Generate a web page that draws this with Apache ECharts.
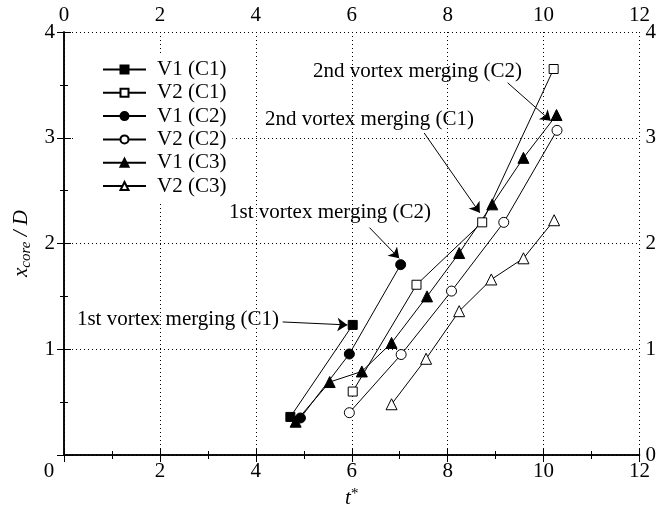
<!DOCTYPE html>
<html>
<head>
<meta charset="utf-8">
<script src="https://cdn.jsdelivr.net/npm/echarts@6/dist/echarts.min.js"></script>
<style>
  html, body { margin: 0; padding: 0; background: #fff; }
  #chart { width: 659px; height: 515px; }
</style>
</head>
<body>
<div id="chart"></div>
<script>
// Axis ticks
const xTicks = [0, 2, 4, 6, 8, 10, 12];
const yTicks = [0, 1, 2, 3, 4];

// Vortex core streamwise position x_core/D against t*
const seriesNames = ['V1 (C1)', 'V2 (C1)', 'V1 (C2)', 'V2 (C2)', 'V1 (C3)', 'V2 (C3)'];
const v1c1 = [[4.72, 0.36], [6.02, 1.23]];
const v2c1 = [[6.02, 0.60], [7.35, 1.61], [8.72, 2.20], [10.21, 3.65]];
const v1c2 = [[4.93, 0.35], [5.95, 0.955], [7.02, 1.80]];
const v2c2 = [[5.95, 0.40], [7.03, 0.95], [8.08, 1.55], [9.17, 2.20], [10.28, 3.07]];
const v1c3 = [[4.83, 0.315], [5.54, 0.69], [6.21, 0.79], [6.83, 1.06], [7.57, 1.50], [8.24, 1.91], [8.93, 2.37], [9.58, 2.81], [10.27, 3.215]];
const v2c3 = [[6.83, 0.48], [7.55, 0.91], [8.24, 1.36], [8.91, 1.66], [9.58, 1.86], [10.22, 2.22]];

// Annotations: label anchor (left edge, middle) and arrow start/end, in data units
const noteTexts = ['1st vortex merging (C1)', '1st vortex merging (C2)', '2nd vortex merging (C1)', '2nd vortex merging (C2)'];
const noteAnchors = [[0.27, 1.277], [3.44, 2.29], [4.19, 3.17], [5.19, 3.63]];
const arrowFrom = [[4.56, 1.258], [6.37, 2.15], [7.51, 3.045], [9.25, 3.52]];
const arrowTo = [[5.91, 1.23], [6.99, 1.86], [8.67, 2.29], [10.15, 3.16]];

const FONT = 'Liberation Serif';
const FS = 21;
const black = '#000';

const seriesData = [v1c1, v2c1, v1c2, v2c2, v1c3, v2c3];
const symbols = ['rect', 'rect', 'circle', 'circle', 'triangle', 'triangle'];
const sizes = [9, 9, 10, 10, 11, 11];
const filled = [true, false, true, false, true, false];

const lineSeries = seriesNames.map((name, i) => ({
  name: name,
  type: 'line',
  data: seriesData[i],
  symbol: symbols[i],
  symbolSize: sizes[i],
  showSymbol: true,
  lineStyle: { color: black, width: 1 },
  itemStyle: {
    color: filled[i] ? black : '#fff',
    borderColor: black,
    borderWidth: 1,
    opacity: 1
  },
  emphasis: { disabled: true },
  z: 3
}));

const noteSeries = {
  name: 'notes',
  type: 'scatter',
  data: noteAnchors.map((p, i) => [p[0], p[1], noteTexts[i]]),
  symbolSize: 0,
  silent: true,
  itemStyle: { opacity: 1, color: black },
  label: {
    show: true,
    position: 'right',
    distance: 0,
    formatter: p => p.data[2],
    fontFamily: FONT,
    fontSize: FS,
    color: black,
    opacity: 1
  },
  emphasis: { disabled: true },
  markLine: {
    silent: true,
    symbol: ['none', 'arrow'],
    symbolSize: 10,
    label: { show: false },
    lineStyle: { color: black, width: 1, type: 'solid', opacity: 1 },
    itemStyle: { color: black },
    emphasis: { disabled: true },
    data: arrowFrom.map((a, i) => [{ coord: a }, { coord: arrowTo[i] }])
  },
  z: 5
};

const tickStyle = { color: black, width: 1 };
const axisLineStyle = { color: black, width: 1.5 };
const labelStyle = { fontFamily: FONT, fontSize: FS, color: black };

const xMin = xTicks[0], xMax = xTicks[xTicks.length - 1], xStep = xTicks[1] - xTicks[0];
const yMin = yTicks[0], yMax = yTicks[yTicks.length - 1], yStep = yTicks[1] - yTicks[0];

const option = {
  backgroundColor: '#fff',
  animation: false,
  grid: { left: 64, right: 17, top: 32, bottom: 60, containLabel: false },
  legend: {
    data: seriesNames,
    orient: 'vertical',
    left: 73,
    top: 53,
    padding: [6, 6, 6, 29],
    backgroundColor: '#fff',
    itemWidth: 43,
    itemHeight: 10,
    itemGap: 2.3,
    selectedMode: false,
    z: 4,
    textStyle: { fontFamily: FONT, fontSize: FS, color: black, lineHeight: 21, padding: [0, 0, 0, 6] }
  },
  xAxis: [
    {
      type: 'value', position: 'bottom', min: xMin, max: xMax, interval: xStep,
      axisLine: { show: true, lineStyle: axisLineStyle },
      axisTick: { show: true, inside: true, length: 7, lineStyle: tickStyle },
      minorTick: { show: true, splitNumber: 2, length: 4, lineStyle: tickStyle },
      splitLine: { show: true, lineStyle: { color: black, width: 1, type: [1, 3] } },
      axisLabel: Object.assign({
        margin: 6,
        formatter: v => (v === 0 ? '{zero|0}' : String(v)),
        rich: { zero: { fontFamily: FONT, fontSize: FS, color: black, padding: [0, 30, 0, 0] } }
      }, labelStyle),
      name: '{it|t}{sup|*}',
      nameLocation: 'middle',
      nameGap: 28,
      nameTextStyle: {
        rich: {
          it: { fontFamily: FONT, fontSize: FS, fontStyle: 'italic', color: black, lineHeight: 24 },
          sup: { fontFamily: FONT, fontSize: 15, color: black, lineHeight: 12, verticalAlign: 'top' }
        }
      }
    },
    {
      type: 'value', position: 'top', min: xMin, max: xMax, interval: xStep,
      axisLine: { show: true, lineStyle: axisLineStyle },
      axisTick: { show: true, inside: true, length: 7, lineStyle: tickStyle },
      minorTick: { show: true, splitNumber: 2, length: 4, lineStyle: tickStyle },
      splitLine: { show: false },
      axisLabel: Object.assign({ margin: 6 }, labelStyle)
    }
  ],
  yAxis: [
    {
      type: 'value', position: 'left', min: yMin, max: yMax, interval: yStep,
      axisLine: { show: true, lineStyle: axisLineStyle },
      axisTick: { show: true, inside: true, length: 7, lineStyle: tickStyle },
      minorTick: { show: true, splitNumber: 2, length: 4, lineStyle: tickStyle },
      splitLine: { show: true, lineStyle: { color: black, width: 1, type: [1, 3] } },
      axisLabel: Object.assign({ margin: 9, formatter: v => (v === 0 ? '' : String(v)) }, labelStyle),
      name: '{it|x}{sub|core}{it| / D}',
      nameLocation: 'middle',
      nameGap: 30,
      nameTextStyle: {
        rich: {
          it: { fontFamily: FONT, fontSize: FS, fontStyle: 'italic', color: black, lineHeight: 24 },
          sub: { fontFamily: FONT, fontSize: 15, fontStyle: 'italic', color: black, lineHeight: 14, verticalAlign: 'bottom' }
        }
      }
    },
    {
      type: 'value', position: 'right', min: yMin, max: yMax, interval: yStep,
      axisLine: { show: true, lineStyle: axisLineStyle },
      axisTick: { show: true, inside: true, length: 7, lineStyle: tickStyle },
      minorTick: { show: true, splitNumber: 2, length: 4, lineStyle: tickStyle },
      splitLine: { show: false },
      axisLabel: Object.assign({ margin: 6 }, labelStyle)
    }
  ],
  series: lineSeries.concat([noteSeries])
};

const chart = echarts.init(document.getElementById('chart'), null, { renderer: 'canvas' });
chart.setOption(option);
</script>
</body>
</html>
